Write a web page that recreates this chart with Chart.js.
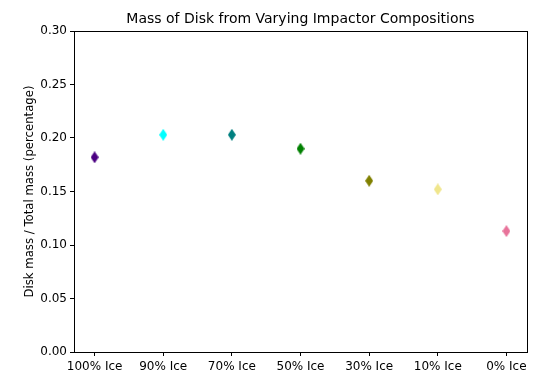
<!DOCTYPE html>
<html>
<head>
<meta charset="utf-8">
<script src="https://cdn.jsdelivr.net/npm/chart.js@4.4.1/dist/chart.umd.min.js"></script>
<style>
  html, body { margin: 0; padding: 0; background: #fff; }
  #wrap { width: 541px; height: 374px; }
</style>
</head>
<body>
<div id="wrap"><canvas id="chart" width="541" height="374"></canvas></div>
<script>
const categories = ["100% Ice", "90% Ice", "70% Ice", "50% Ice", "30% Ice", "10% Ice", "0% Ice"];
const diskMass = [0.182, 0.203, 0.203, 0.190, 0.160, 0.152, 0.113];
const colors = ["#4b0082", "#00ffff", "#008080", "#008000", "#808000", "#f0e68c", "#e8739a"];
const yTicks = [0, 0.05, 0.1, 0.15, 0.2, 0.25, 0.3];
const titleText = "Mass of Disk from Varying Impactor Compositions";

/* thin diamond marker like matplotlib 'd' */
function diamond(color) {
  const c = document.createElement("canvas");
  c.width = 8;
  c.height = 12;
  const g = c.getContext("2d");
  g.fillStyle = color;
  g.beginPath();
  g.moveTo(4, 0);
  g.lineTo(8, 6);
  g.lineTo(4, 12);
  g.lineTo(0, 6);
  g.closePath();
  g.fill();
  return c;
}

/* box around the plot area + title centred over it */
const frame = {
  id: "frame",
  afterDraw(chart) {
    const a = chart.chartArea;
    const ctx = chart.ctx;
    ctx.save();
    ctx.strokeStyle = "#000";
    ctx.lineWidth = 1;
    ctx.strokeRect(Math.round(a.left) + 0.5, Math.round(a.top) + 0.5,
      Math.round(a.right - a.left), Math.round(a.bottom - a.top));
    ctx.fillStyle = "#000";
    ctx.font = "14px 'DejaVu Sans', sans-serif";
    ctx.textAlign = "center";
    ctx.textBaseline = "middle";
    ctx.fillText(titleText, (a.left + a.right) / 2, 19);
    ctx.restore();
  },
};

Chart.defaults.font.family = "'DejaVu Sans', sans-serif";
Chart.defaults.color = "#000";

new Chart(document.getElementById("chart"), {
  type: "scatter",
  data: {
    datasets: [
      {
        data: diskMass.map((v, i) => ({ x: i, y: v })),
        pointStyle: colors.map(diamond),
        pointRadius: 6,
        pointHoverRadius: 6,
      },
    ],
  },
  options: {
    responsive: false,
    animation: false,
    layout: { padding: { left: 0, right: 14, top: 31, bottom: 0 } },
    plugins: {
      legend: { display: false },
      tooltip: { enabled: false },
      title: { display: false },
    },
    scales: {
      x: {
        type: "linear",
        min: -0.3,
        max: 6.3,
        afterBuildTicks(axis) {
          axis.ticks = categories.map((c, i) => ({ value: i }));
        },
        afterFit(axis) {
          axis.height = 22;
        },
        ticks: {
          font: { size: 12 },
          padding: 4,
          maxRotation: 0,
          autoSkip: false,
          callback: (v) => categories[v],
        },
        grid: { drawOnChartArea: false, tickLength: 4, color: "#000" },
        border: { color: "#000" },
      },
      y: {
        min: 0,
        max: 0.3,
        afterBuildTicks(axis) {
          axis.ticks = yTicks.map((v) => ({ value: v }));
        },
        afterFit(axis) {
          axis.width = 74;
        },
        ticks: {
          font: { size: 12 },
          padding: 3,
          callback: (v) => v.toFixed(2),
        },
        grid: { drawOnChartArea: false, tickLength: 4, color: "#000" },
        border: { color: "#000" },
        title: {
          display: true,
          text: "Disk mass / Total mass (percentage)",
          font: { size: 11.7 },
          padding: { top: 23, bottom: 4 },
        },
      },
    },
  },
  plugins: [frame],
});
</script>
</body>
</html>
